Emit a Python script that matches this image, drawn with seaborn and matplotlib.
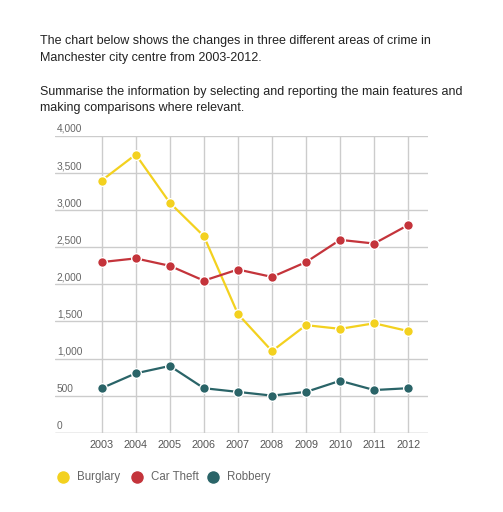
import pandas as pd
import seaborn as sns
import matplotlib.pyplot as plt
from matplotlib.lines import Line2D
from matplotlib import transforms

# data
years = [2003, 2004, 2005, 2006, 2007, 2008, 2009, 2010, 2011, 2012]
burglary = [3400, 3750, 3100, 2650, 1600, 1100, 1450, 1400, 1475, 1370]
car_theft = [2300, 2350, 2250, 2050, 2200, 2100, 2300, 2600, 2550, 2800]
robbery = [600, 800, 900, 600, 550, 500, 550, 700, 575, 600]
series_names = ["Burglary", "Car Theft", "Robbery"]
y_ticks = [0, 500, 1000, 1500, 2000, 2500, 3000, 3500, 4000]
y_tick_labels = ["0", "500", "1,000", "1,500", "2,000", "2,500", "3,000", "3,500", "4,000"]

colors = {"Burglary": "#F3D11F", "Car Theft": "#C4343B", "Robbery": "#2A6468"}

df = pd.DataFrame({
    "year": years * 3,
    "value": burglary + car_theft + robbery,
    "crime": [n for n in series_names for _ in years],
})

sns.set_style("white")
plt.rcParams["font.family"] = ["Liberation Sans", "DejaVu Sans"]
narrow = dict(family=["Liberation Sans Narrow", "Liberation Sans"], stretch="condensed")

fig = plt.figure(figsize=(5.03, 5.12), dpi=100)
ax = fig.add_axes([55 / 503, 1 - 432.7 / 512, 373 / 503, (432.7 - 136) / 512])

# grid
for y in y_ticks:
    ax.axhline(y, color="#cccccc" if y else "#a8a8a8", lw=1, zorder=0)
for x in years:
    ax.plot([x, x], [0, 4000], color="#cccccc", lw=1, zorder=0)

sns.lineplot(data=df, x="year", y="value", hue="crime", palette=colors,
             marker="o", markersize=7, markeredgecolor="white",
             markeredgewidth=1, linewidth=1.6, ax=ax, legend=False,
             clip_on=False, zorder=3)

ax.set_xlim(2001.63, 2012.58)
ax.set_ylim(0, 4000)
ax.set_xticks(years)
ax.set_xticklabels([str(y) for y in years], fontsize=7.8, color="#555555", **narrow)
ax.tick_params(axis="x", length=0, pad=5)
ax.set_yticks([])
ax.set_xlabel("")
ax.set_ylabel("")
for s in ax.spines.values():
    s.set_visible(False)

# y labels sit above gridlines on the left
trans = transforms.blended_transform_factory(ax.transAxes, ax.transData)
for y, lab in zip(y_ticks, y_tick_labels):
    ax.text(0.005, y + 28, lab, transform=trans, ha="left", va="bottom",
            fontsize=7.3, color="#666666", **narrow)

# prompt text
txt = dict(fontsize=9.0, color="#222222", ha="left", va="center")
fig.text(40 / 503, 1 - 41 / 512, "The chart below shows the changes in three different areas of crime in", **txt)
fig.text(40 / 503, 1 - 58 / 512, "Manchester city centre from 2003-2012.", **txt)
fig.text(40 / 503, 1 - 92 / 512, "Summarise the information by selecting and reporting the main features and", **txt)
fig.text(40 / 503, 1 - 108 / 512, "making comparisons where relevant.", **txt)

# legend: coloured dots with grey labels
leg_y = 1 - 477 / 512
for name, mx in zip(series_names, [63, 137, 213]):
    fig.add_artist(Line2D([mx / 503], [leg_y], marker="o", ls="", markersize=10,
                          color=colors[name], markeredgecolor="white",
                          transform=fig.transFigure))
    fig.text((mx + 14) / 503, leg_y, name, ha="left", va="center",
             fontsize=8.3, color="#666666", **narrow)

fig.savefig("out.png", dpi=100)
